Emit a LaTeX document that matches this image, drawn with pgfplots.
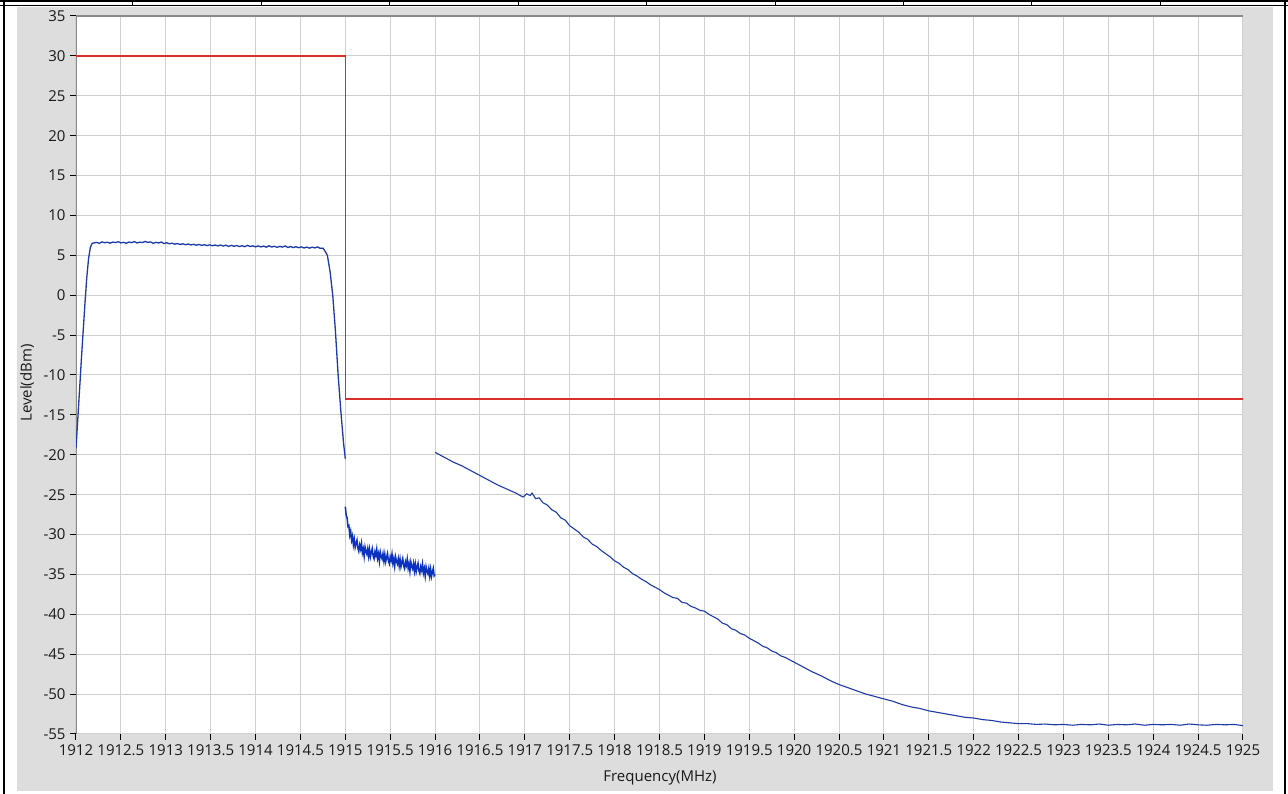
\documentclass[border=0pt]{standalone}
\usepackage{pgfplots}
\pgfplotsset{compat=1.18}
\usepackage{fontspec}
\setmainfont{Open Sans}
\definecolor{panel}{RGB}{221,221,221}
\definecolor{gridc}{RGB}{208,208,208}
\definecolor{axc}{RGB}{138,138,138}
\definecolor{tracec}{RGB}{28,58,168}
\definecolor{noisec}{RGB}{10,50,190}
\definecolor{limitc}{RGB}{220,45,45}
\definecolor{txt}{RGB}{25,25,25}
\begin{document}
\begin{tikzpicture}
\useasboundingbox (0pt,0pt) rectangle (1288pt,794pt);
\fill[white] (0pt,0pt) rectangle (1288pt,794pt);
\fill[panel] (17pt,3pt) rectangle (1273pt,787pt);
% frame
\draw[black,line width=2pt] (0pt,793pt) -- (1288pt,793pt);
\draw[black,line width=1pt] (0pt,788pt) -- (1288pt,788pt);
\foreach \xx in {132,261,389,518,646,775,903,1031,1160}
  \draw[black,line width=1pt] (\xx pt,788pt) -- (\xx pt,794pt);
\draw[black,line width=2pt] (3.5pt,0pt) -- (3.5pt,794pt);
\draw[black,line width=2pt] (1284.5pt,0pt) -- (1284.5pt,794pt);
\begin{axis}[
  at={(76pt,60pt)}, anchor=south west,
  scale only axis, width=1167pt, height=718pt,
  xmin=1912, xmax=1925, ymin=-55, ymax=35,
  axis background/.style={fill=white},
  axis line style={draw=none},
  xtick distance=0.5, ytick distance=5,
  grid=major, major grid style={gridc,line width=1pt},
  tick align=outside, tick pos=left,
  major tick length=6pt,
  major tick style={black,line width=1pt},
  scaled x ticks=false, scaled y ticks=false,
  xticklabel style={font=\fontsize{15}{17}\selectfont, text=txt, yshift=-1pt},
  yticklabel style={font=\fontsize{15}{17}\selectfont, text=txt, xshift=-1pt},
  /pgf/number format/assume math mode=true,
  /pgf/number format/.cd, fixed, precision=1, 1000 sep={},
]
\draw[axc,line width=2pt] (rel axis cs:0,0) -- (rel axis cs:0,1) -- (rel axis cs:1,1);
% limit line
\addplot[limitc,line width=1.3pt] coordinates {
(1912,30) (1915,30) (1915,-13) (1925,-13)};
% segment 1: main channel
\addplot[tracec,line width=1.3pt] coordinates {
(1912.00,-19.2) (1912.02,-15.5) (1912.04,-11.8) (1912.06,-8.0) (1912.08,-4.5)
(1912.10,-1.0) (1912.12,2.2) (1912.14,4.6) (1912.16,6.0) (1912.18,6.5)
(1912.20,6.55) (1912.23,6.62) (1912.26,6.50) (1912.29,6.68) (1912.32,6.58)
(1912.35,6.64) (1912.38,6.52) (1912.41,6.66) (1912.44,6.60) (1912.47,6.70)
(1912.50,6.56) (1912.53,6.63) (1912.56,6.51) (1912.59,6.67) (1912.62,6.59)
(1912.65,6.72) (1912.68,6.55) (1912.71,6.65) (1912.74,6.60) (1912.77,6.74)
(1912.80,6.62) (1912.83,6.68) (1912.86,6.50) (1912.89,6.63) (1912.92,6.55)
(1912.95,6.66) (1912.98,6.48) (1913.01,6.57) (1913.04,6.45) (1913.07,6.52)
(1913.10,6.40) (1913.13,6.48) (1913.16,6.36) (1913.19,6.44) (1913.22,6.33)
(1913.25,6.42) (1913.28,6.30) (1913.31,6.38) (1913.34,6.27) (1913.37,6.36)
(1913.40,6.25) (1913.43,6.33) (1913.46,6.22) (1913.49,6.31) (1913.52,6.20)
(1913.55,6.29) (1913.58,6.18) (1913.61,6.30) (1913.64,6.16) (1913.67,6.27)
(1913.70,6.12) (1913.73,6.25) (1913.76,6.14) (1913.79,6.22) (1913.82,6.10)
(1913.85,6.20) (1913.88,6.08) (1913.91,6.24) (1913.94,6.11) (1913.97,6.19)
(1914.00,6.06) (1914.03,6.18) (1914.06,6.05) (1914.09,6.16) (1914.12,6.02)
(1914.15,6.20) (1914.18,6.04) (1914.21,6.14) (1914.24,6.00) (1914.27,6.12)
(1914.30,6.03) (1914.33,6.18) (1914.36,5.98) (1914.39,6.10) (1914.42,5.97)
(1914.45,6.08) (1914.48,5.95) (1914.51,6.06) (1914.54,5.92) (1914.57,6.04)
(1914.60,5.90) (1914.63,6.02) (1914.66,5.93) (1914.69,6.05) (1914.72,5.88)
(1914.75,5.90) (1914.77,5.6) (1914.80,5.0) (1914.83,3.0) (1914.86,0.0)
(1914.89,-4.5) (1914.92,-10.0) (1914.95,-14.5) (1914.98,-18.5) (1915.00,-20.5)};
% segment 2: noisy
\addplot[noisec,line width=1.5pt] coordinates {
(1915.00,-26.5) (1915.01,-27.6) (1915.02,-27.9) (1915.03,-29.0) (1915.04,-28.9)
(1915.05,-30.1) (1915.06,-29.6) (1915.07,-30.7) (1915.08,-30.2) (1915.09,-31.3)
(1915.10,-30.60) (1915.11,-31.60) (1915.12,-31.10) (1915.13,-30.70) (1915.14,-31.70)
(1915.15,-32.10) (1915.16,-31.30) (1915.17,-31.80) (1915.18,-31.10) (1915.19,-32.30)
(1915.20,-31.80) (1915.21,-32.74) (1915.22,-31.57) (1915.23,-32.11) (1915.24,-32.45)
(1915.25,-31.78) (1915.26,-32.72) (1915.27,-31.85) (1915.28,-32.79) (1915.29,-32.23)
(1915.30,-31.76) (1915.31,-32.70) (1915.32,-33.04) (1915.33,-32.17) (1915.34,-32.61)
(1915.35,-31.84) (1915.36,-32.98) (1915.37,-32.42) (1915.38,-33.35) (1915.39,-32.19)
(1915.40,-32.73) (1915.41,-33.06) (1915.42,-32.40) (1915.43,-33.33) (1915.44,-32.47)
(1915.45,-33.41) (1915.46,-32.84) (1915.47,-32.38) (1915.48,-33.32) (1915.49,-33.65)
(1915.50,-32.79) (1915.51,-33.23) (1915.52,-32.46) (1915.53,-33.60) (1915.54,-33.03)
(1915.55,-33.97) (1915.56,-32.81) (1915.57,-33.34) (1915.58,-33.68) (1915.59,-33.02)
(1915.60,-33.95) (1915.61,-33.09) (1915.62,-34.03) (1915.63,-33.46) (1915.64,-33.00)
(1915.65,-33.93) (1915.66,-34.27) (1915.67,-33.41) (1915.68,-33.84) (1915.69,-33.08)
(1915.70,-34.22) (1915.71,-33.65) (1915.72,-34.59) (1915.73,-33.43) (1915.74,-33.96)
(1915.75,-34.30) (1915.76,-33.63) (1915.77,-34.57) (1915.78,-33.71) (1915.79,-34.64)
(1915.80,-34.08) (1915.81,-33.62) (1915.82,-34.55) (1915.83,-34.89) (1915.84,-34.03)
(1915.85,-34.46) (1915.86,-33.70) (1915.87,-34.83) (1915.88,-34.27) (1915.89,-35.21)
(1915.90,-34.04) (1915.91,-34.58) (1915.92,-34.92) (1915.93,-34.25) (1915.94,-35.19)
(1915.95,-34.33) (1915.96,-35.26) (1915.97,-34.70) (1915.98,-34.23) (1915.99,-35.17)
(1916.00,-35.00)};
% segment 3: spurious emission
\addplot[tracec,line width=1.1pt] coordinates {
(1916.00,-19.7) (1916.10,-20.3) (1916.20,-20.9) (1916.30,-21.4) (1916.40,-22.0)
(1916.50,-22.6) (1916.60,-23.2) (1916.70,-23.8) (1916.80,-24.3) (1916.90,-24.8)
(1916.98,-25.3) (1917.02,-24.9) (1917.06,-25.1) (1917.08,-24.8) (1917.12,-25.5)
(1917.16,-25.4) (1917.20,-26.0) (1917.25,-26.3) (1917.30,-26.9) (1917.35,-27.2)
(1917.40,-27.9) (1917.45,-28.2) (1917.50,-28.9) (1917.55,-29.3) (1917.60,-29.7)
(1917.65,-30.3) (1917.70,-30.6) (1917.75,-31.2) (1917.80,-31.5) (1917.85,-32.0)
(1917.90,-32.4) (1917.95,-32.8) (1918.00,-33.3) (1918.05,-33.6) (1918.10,-34.1)
(1918.15,-34.4) (1918.20,-34.9) (1918.25,-35.2) (1918.30,-35.6) (1918.35,-35.9)
(1918.40,-36.3) (1918.45,-36.6) (1918.50,-36.9) (1918.55,-37.3) (1918.60,-37.6)
(1918.65,-37.9) (1918.70,-38.0) (1918.75,-38.5) (1918.80,-38.6) (1918.85,-39.0)
(1918.90,-39.2) (1918.95,-39.5) (1919.00,-39.6) (1919.05,-40.0) (1919.10,-40.3)
(1919.15,-40.6) (1919.20,-41.1) (1919.25,-41.3) (1919.30,-41.8) (1919.35,-42.0)
(1919.40,-42.4) (1919.45,-42.6) (1919.50,-43.0) (1919.55,-43.3) (1919.60,-43.6)
(1919.65,-44.0) (1919.70,-44.2) (1919.75,-44.6) (1919.80,-44.8) (1919.85,-45.2)
(1919.90,-45.4) (1919.95,-45.7) (1920.00,-46.0) (1920.10,-46.6) (1920.20,-47.2)
(1920.30,-47.7) (1920.40,-48.3) (1920.50,-48.8) (1920.60,-49.2) (1920.70,-49.6)
(1920.80,-50.0) (1920.90,-50.3) (1921.00,-50.6) (1921.10,-50.9) (1921.20,-51.3)
(1921.30,-51.6) (1921.40,-51.8) (1921.50,-52.1) (1921.60,-52.3) (1921.70,-52.5)
(1921.80,-52.7) (1921.90,-52.9) (1922.00,-53.0) (1922.10,-53.2) (1922.20,-53.3)
(1922.30,-53.5) (1922.40,-53.6) (1922.50,-53.7) (1922.60,-53.7) (1922.70,-53.8)
(1922.80,-53.75) (1922.90,-53.85) (1923.00,-53.8) (1923.10,-53.9) (1923.20,-53.8)
(1923.30,-53.85) (1923.40,-53.75) (1923.50,-53.9) (1923.60,-53.8) (1923.70,-53.85)
(1923.80,-53.75) (1923.90,-53.9) (1924.00,-53.8) (1924.10,-53.85) (1924.20,-53.8)
(1924.30,-53.9) (1924.40,-53.75) (1924.50,-53.85) (1924.60,-53.9) (1924.70,-53.8)
(1924.80,-53.85) (1924.90,-53.8) (1925.00,-53.95)};
\end{axis}
\node[font=\fontsize{15}{17}\selectfont, text=txt] at (660pt,16pt) {Frequency(MHz)};
\node[font=\fontsize{15}{17}\selectfont, text=txt, rotate=90] at (27pt,411pt) {Level(dBm)};
\end{tikzpicture}
\end{document}
